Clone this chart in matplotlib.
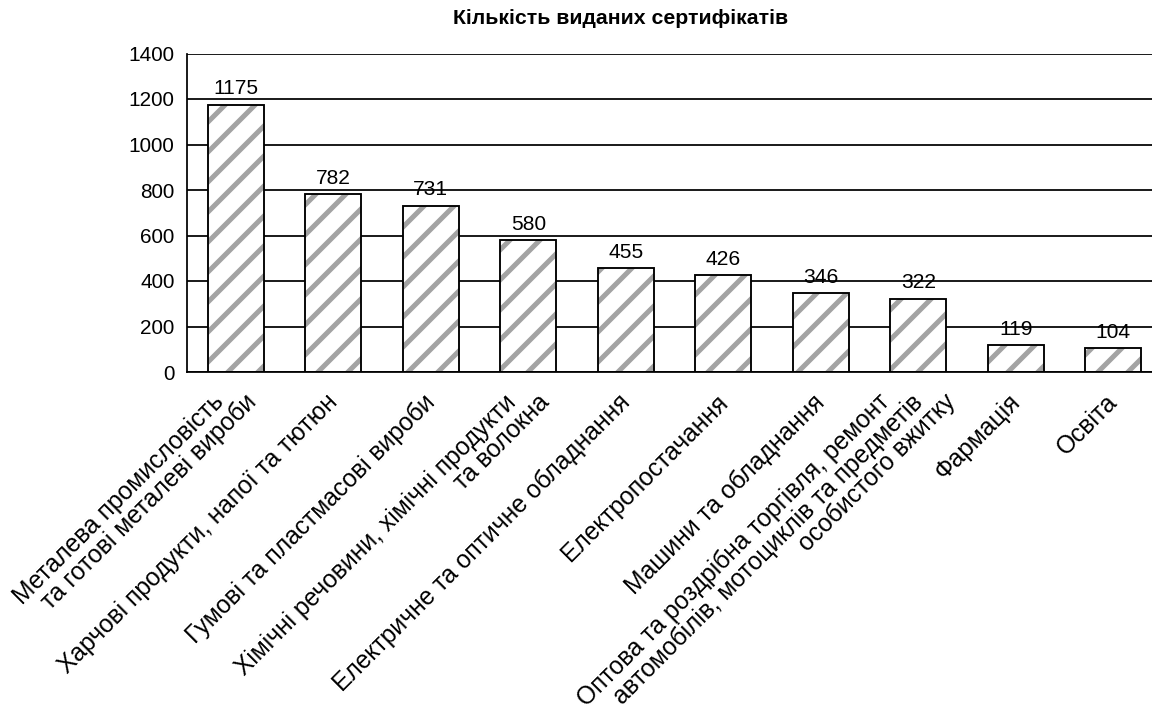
import matplotlib
matplotlib.use("Agg")
import matplotlib.pyplot as plt

categories = [
    "Металева промисловість\nта готові металеві вироби",
    "Харчові продукти, напої та тютюн",
    "Гумові та пластмасові вироби",
    "Хімічні речовини, хімічні продукти\nта волокна",
    "Електричне та оптичне обладнання",
    "Електропостачання",
    "Машини та обладнання",
    "Оптова та роздрібна торгівля, ремонт\nавтомобілів, мотоциклів та предметів\nособистого вжитку",
    "Фармація",
    "Освіта",
]
values = [1175, 782, 731, 580, 455, 426, 346, 322, 119, 104]
yticks = [0, 200, 400, 600, 800, 1000, 1200, 1400]
title = "Кількість виданих сертифікатів"

DPI = 180
PX = 72 / DPI  # points per pixel
plt.rcParams['font.family'] = ['Liberation Sans', 'DejaVu Sans']
plt.rcParams['hatch.linewidth'] = 2.0

fig = plt.figure(figsize=(1152 / DPI, 713 / DPI), dpi=DPI)
W, H = 1152, 713
ax = fig.add_axes([187 / W, 1 - 372 / H, 1 - 187 / W, (372 - 53.5) / H])

x = list(range(len(categories)))
# hatched fill
ax.bar(x, values, width=0.575, color='white', edgecolor='#a3a3a3',
       hatch='//', linewidth=0, zorder=2)
# black outline
ax.bar(x, values, width=0.575, fill=False, edgecolor='black',
       linewidth=0.75, zorder=3)

for xi, v in zip(x, values):
    ax.annotate(str(v), (xi, v), xytext=(0, 2.5), textcoords='offset points',
                ha='center', va='bottom', fontsize=8.4)

ax.set_ylim(0, 1400)
ax.set_xlim(-0.5, (W - 187) / 97.5 - 0.5)
ax.set_yticks(yticks)
ax.set_yticklabels([str(t) for t in yticks], fontsize=8.3)
ax.tick_params(axis='y', length=0, pad=5)
ax.yaxis.grid(True, color='black', linewidth=0.7, zorder=1)
ax.set_axisbelow(True)
for s in ['top', 'right']:
    ax.spines[s].set_visible(False)
for s in ['left', 'bottom']:
    ax.spines[s].set_linewidth(0.7)

# category labels: each line's end aligned on a horizontal line below the axis
ax.set_xticks(x)
ax.set_xticklabels([])
ax.tick_params(axis='x', length=0)
LINE_STEP = 33  # horizontal shift between consecutive lines (px)
for xi, cat in zip(x, categories):
    lines = cat.split("\n")
    n = len(lines)
    for i, line in enumerate(lines):
        dx = -8 + (i - (n - 1) / 2) * LINE_STEP
        ax.annotate(line, (xi, 0), xytext=(dx * PX, -18 * PX),
                    textcoords='offset points', rotation=45,
                    rotation_mode='anchor', ha='right', va='top',
                    fontsize=9.85, annotation_clip=False)

fig.text(621 / W, 1 - 19 / H, title, ha='center', va='center',
         fontsize=8.5, fontweight='bold')

fig.savefig("out.png", dpi=DPI)
